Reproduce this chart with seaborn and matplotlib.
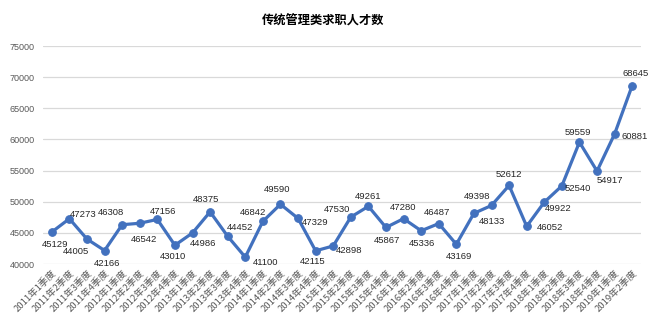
import matplotlib
matplotlib.use("Agg")
import matplotlib.pyplot as plt
import matplotlib.transforms as mtransforms
import seaborn as sns
import pandas as pd

quarters = [
    "2011年1季度", "2011年2季度", "2011年3季度", "2011年4季度",
    "2012年1季度", "2012年2季度", "2012年3季度", "2012年4季度",
    "2013年1季度", "2013年2季度", "2013年3季度", "2013年4季度",
    "2014年1季度", "2014年2季度", "2014年3季度", "2014年4季度",
    "2015年1季度", "2015年2季度", "2015年3季度", "2015年4季度",
    "2016年1季度", "2016年2季度", "2016年3季度", "2016年4季度",
    "2017年1季度", "2017年2季度", "2017年3季度", "2017年4季度",
    "2018年1季度", "2018年2季度", "2018年3季度", "2018年4季度",
    "2019年1季度", "2019年2季度",
]
talents = [
    45129, 47273, 44005, 42166,
    46308, 46542, 47156, 43010,
    44986, 48375, 44452, 41100,
    46842, 49590, 47329, 42115,
    42898, 47530, 49261, 45867,
    47280, 45336, 46487, 43169,
    48133, 49398, 52612, 46052,
    49922, 52540, 59559, 54917,
    60881, 68645,
]
yticks = [40000, 45000, 50000, 55000, 60000, 65000, 70000, 75000]
title = "传统管理类求职人才数"

# label offsets in pixels (style only)
label_offsets = [
    (3, -12), (14, 4), (-11, -12), (2, -13),
    (-11, 12), (4, -16), (6, 8), (-2, -11),
    (11, -11), (-4, 12), (12, 9), (20, -5),
    (-10, 9), (-3, 15), (17, -4), (-3, -11),
    (16, -5), (-14, 8), (0, 10), (1, -13),
    (0, 11), (1, -13), (-2, 11), (3, -12),
    (18, -8), (-14, 9), (0, 11), (23, -1),
    (14, -6), (16, -3), (-2, 10), (13, -9),
    (20, -3), (3, 12),
]

df = pd.DataFrame({"quarter": quarters, "value": talents, "idx": range(len(quarters))})

sns.set_theme(style="white")
plt.rcParams["font.family"] = ["Noto Sans CJK SC", "DejaVu Sans"]

W, H = 654, 328
fig = plt.figure(figsize=(W / 100, H / 100), dpi=100)
ax = fig.add_axes([43 / W, (H - 264) / H, (641 - 43) / W, (264 - 46) / H])

blue = "#4271BE"
sns.lineplot(data=df, x="idx", y="value", ax=ax, color=blue, linewidth=2.3,
             marker="o", markersize=5.5, markeredgecolor=blue, markerfacecolor=blue)

ax.set_xlim(-0.5, len(quarters) - 0.5)
ax.set_ylim(yticks[0], yticks[-1])
ax.set_yticks(yticks)
ax.set_yticklabels([str(v) for v in yticks], fontsize=6.5, color="#595959",
                   family=["Liberation Sans", "DejaVu Sans"])
ax.set_xticks(range(len(quarters)))
ax.set_xticklabels(quarters, rotation=45, ha="right", va="top",
                   rotation_mode="anchor", fontsize=6.8, color="#595959")
offset = mtransforms.ScaledTranslation(7 / 100, -9 / 100, fig.dpi_scale_trans)
for lbl in ax.get_xticklabels():
    lbl.set_transform(lbl.get_transform() + offset)
ax.tick_params(axis="both", length=0, pad=3)
ax.tick_params(axis="y", pad=6)
ax.set_xlabel("")
ax.set_ylabel("")
ax.grid(axis="y", color="#D9D9D9", linewidth=0.9)
ax.grid(axis="x", visible=False)
for s in ax.spines.values():
    s.set_visible(False)

for i, v in enumerate(talents):
    dx, dy = label_offsets[i]
    ax.annotate(str(v), (i, v), xytext=(dx * 0.72, dy * 0.72), textcoords="offset points",
                ha="center", va="center", fontsize=6.8, color="#262626",
                family=["Liberation Sans", "DejaVu Sans"])

fig.text(323 / W, 1 - 21 / H, title, ha="center", va="center", fontsize=8.8,
         fontweight="bold", color="#000000")

fig.savefig("out.png", dpi=100)
